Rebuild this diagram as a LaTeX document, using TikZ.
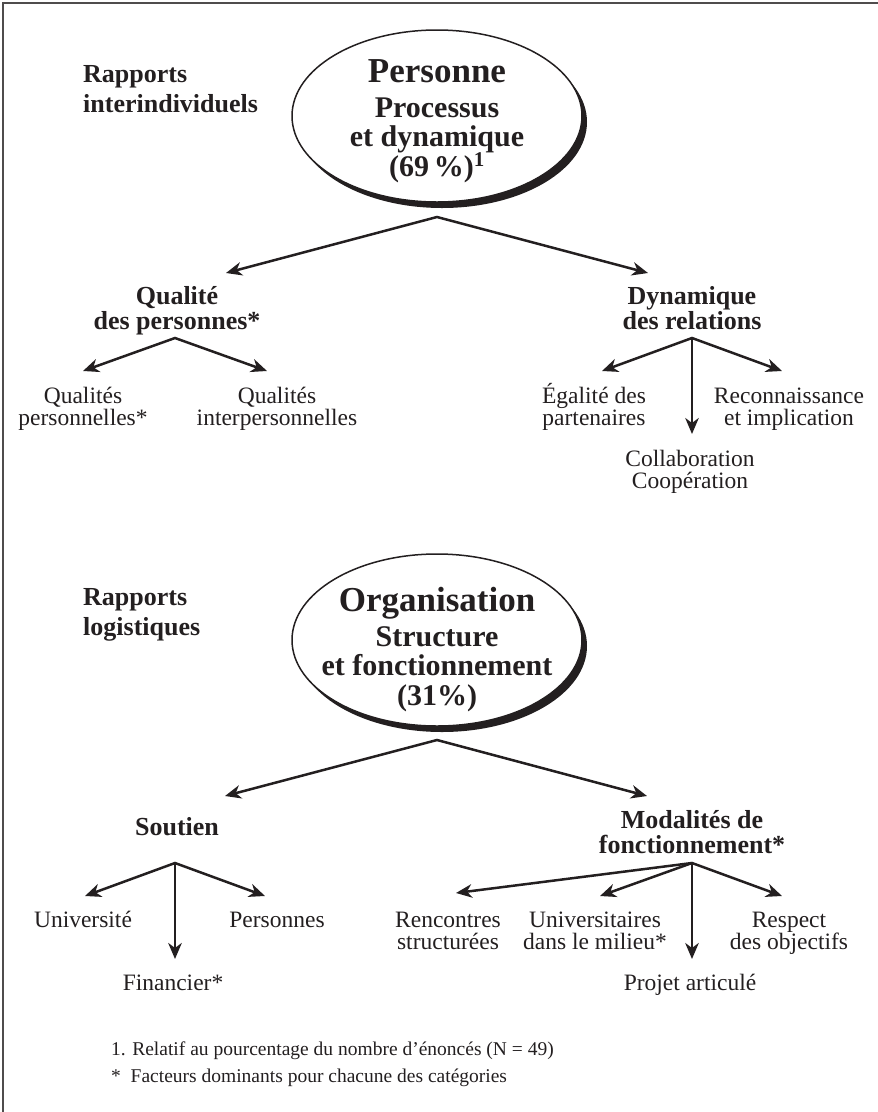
\documentclass[tikz,border=0pt]{standalone}
\usepackage{fontspec}
\setmainfont{Liberation Serif}
\usetikzlibrary{arrows.meta,shapes.geometric,shadows}
\definecolor{ink}{RGB}{35,31,32}
\lineskiplimit=-30pt

\begin{document}
\begin{tikzpicture}[x=1pt,y=-1pt,
    >={Stealth[length=16pt,width=13.5pt,inset=5pt]},
    bubble/.style={ellipse,draw=ink,line width=1.5pt,fill=white,
      minimum width=290pt,minimum height=172pt,inner sep=0pt,
      drop shadow={shadow xshift=5pt,shadow yshift=-6pt,fill=ink,opacity=1}},
    title/.style={font=\bfseries\fontsize{30}{29.5}\selectfont,
      align=center,anchor=base,inner sep=0pt,text=ink},
    side/.style={font=\bfseries\fontsize{26}{30}\selectfont,align=left,
      anchor=base west,inner sep=0pt,text=ink},
    head/.style={font=\bfseries\fontsize{26}{24.5}\selectfont,
      align=center,anchor=base,inner sep=0pt,text=ink},
    leaf/.style={font=\fontsize{23.5}{22}\selectfont,
      align=center,anchor=base,inner sep=0pt,text=ink},
    note/.style={font=\fontsize{19.5}{22}\selectfont,anchor=base west,
      inner sep=0pt,text=ink},
    link/.style={draw=ink,line width=2.5pt}]
    \useasboundingbox (0,0) rectangle (878,1112);
    \draw[ink!80,line width=1.2pt] (3,1112) -- (3,3) -- (878,3);

    % Personne
    \node[bubble] (pers) at (437,116) {};
    \node[title] (pers-txt) at (437,176) {\fontsize{35}{35}\selectfont Personne\\[5pt]Processus\\et dynamique\\(69\,\%)\textsuperscript{1}};
    \node[side] (rap-inter) at (83,112) {Rapports\\interindividuels};

    \coordinate (f-pers) at (437,217);
    \coordinate (t-qual) at (226,273);
    \coordinate (t-dyn) at (648,273);
    \draw[link,<->] (t-qual) -- (f-pers) -- (t-dyn);

    \node[head] (qual) at (177,329) {Qualité\\des personnes*};
    \node[head] (dyn) at (692,329) {Dynamique\\des relations};

    % Qualite des personnes
    \coordinate (f-qual) at (175,338);
    \coordinate (t-qpers) at (83,371);
    \coordinate (t-qinter) at (267,371);
    \draw[link,<->] (t-qpers) -- (f-qual) -- (t-qinter);
    \node[leaf] (q-pers) at (83,425) {Qualités\\personnelles*};
    \node[leaf] (q-inter) at (277,425) {Qualités\\interpersonnelles};

    % Dynamique des relations
    \coordinate (f-dyn) at (692,338);
    \coordinate (t-egal) at (602,371);
    \coordinate (t-reco) at (782,371);
    \coordinate (t-colla) at (692,434);
    \draw[link,<->] (t-egal) -- (f-dyn) -- (t-reco);
    \draw[link,->] (f-dyn) -- (t-colla);
    \node[leaf] (egal) at (594,425) {Égalité des\\partenaires};
    \node[leaf] (reco) at (789,425) {Reconnaissance\\et implication};
    \node[leaf] (colla) at (690,488) {Collaboration\\Coopération};

    % Organisation
    \node[bubble] (org) at (437,640) {};
    \node[title] (org-txt) at (437,705) {\fontsize{35}{35}\selectfont Organisation\\[5pt]Structure\\et fonctionnement\\(31\%)};
    \node[side] (rap-log) at (83,635) {Rapports\\logistiques};

    \coordinate (f-org) at (437,740);
    \coordinate (t-sout) at (225,796);
    \coordinate (t-moda) at (647,796);
    \draw[link,<->] (t-sout) -- (f-org) -- (t-moda);

    \node[head] (sout) at (177,835) {Soutien};
    \node[head] (moda) at (692,853) {Modalités de\\fonctionnement*};

    % Soutien
    \coordinate (f-sout) at (175,863);
    \coordinate (t-univ) at (85,896);
    \coordinate (t-perso) at (265,896);
    \coordinate (t-fin) at (175,959);
    \draw[link,<->] (t-univ) -- (f-sout) -- (t-perso);
    \draw[link,->] (f-sout) -- (t-fin);
    \node[leaf] (univ) at (83,927) {Université};
    \node[leaf] (perso) at (277,927) {Personnes};
    \node[leaf] (fin) at (173,990) {Financier*};

    % Modalites de fonctionnement
    \coordinate (f-moda) at (692,863);
    \coordinate (t-renc) at (456,893);
    \coordinate (t-univm) at (600,896);
    \coordinate (t-resp) at (782,896);
    \coordinate (t-proj) at (692,959);
    \draw[link,<->] (t-renc) -- (f-moda) -- (t-resp);
    \draw[link,->] (f-moda) -- (t-univm);
    \draw[link,->] (f-moda) -- (t-proj);
    \node[leaf] (renc) at (448,949) {Rencontres\\structurées};
    \node[leaf] (univm) at (595,949) {Universitaires\\dans le milieu*};
    \node[leaf] (resp) at (789,949) {Respect\\des objectifs};
    \node[leaf] (proj) at (690,990) {Projet articulé};

    % notes
    \node[note] (note1) at (111,1055) {1. Relatif au pourcentage du nombre d’énoncés (N = 49)};
    \node[note] (note2) at (111,1082) {*\ \ Facteurs dominants pour chacune des catégories};
\end{tikzpicture}
\end{document}
